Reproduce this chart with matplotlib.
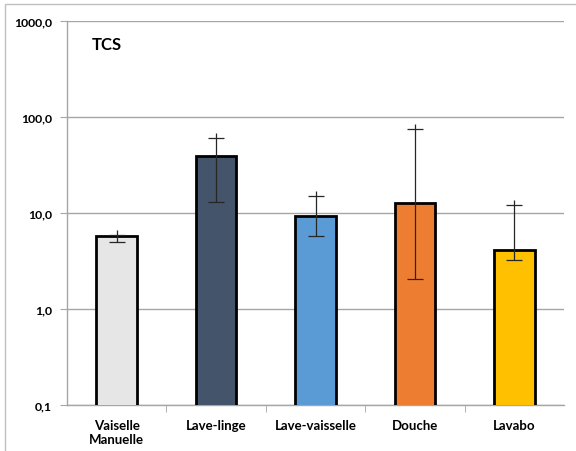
import matplotlib
matplotlib.use("Agg")
import matplotlib.pyplot as plt
import numpy as np
from matplotlib.patches import Rectangle
from matplotlib.ticker import FixedLocator, FuncFormatter

categories = ["Vaiselle\nManuelle", "Lave-linge", "Lave-vaisselle", "Douche", "Lavabo"]
values = [5.7, 39.5, 9.25, 12.7, 4.15]
err_low = [5.0, 13.1, 5.7, 2.05, 3.24]
err_high = [5.9, 60.0, 15.1, 75.0, 12.1]
colors = ["#E6E6E6", "#44546A", "#5B9BD5", "#ED7D31", "#FFC000"]
yticks = [0.1, 1, 10, 100, 1000]
title = "TCS"

plt.rcParams['font.family'] = ['Lato', 'DejaVu Sans']

fig = plt.figure(figsize=(5.76, 4.52), dpi=100)
ax = fig.add_axes([67/576, 1-406/452, (564-67)/576, (406-22)/452])

x = np.arange(len(categories))
ax.bar(x, values, width=0.41, color=colors, edgecolor="black", linewidth=2, zorder=3)

lower = np.array(values) - np.array(err_low)
upper = np.array(err_high) - np.array(values)
ax.errorbar(x, values, yerr=[lower, upper], fmt="none", ecolor="#262626",
            elinewidth=0.9, capsize=6, capthick=0.9, zorder=4)
# slight extension of the error line above the cap
ext = 10 ** (5 / 96)
ax.vlines(x, err_high, np.array(err_high) * ext, color="#262626", lw=0.9, zorder=4)

ax.set_yscale("log")
ax.set_ylim(0.1, 1000)
ax.set_xlim(-0.5, len(categories) - 0.5)
ax.yaxis.set_major_locator(FixedLocator(yticks))
ax.yaxis.set_minor_locator(FixedLocator([]))
ax.yaxis.set_major_formatter(FuncFormatter(lambda v, p: f"{v:.1f}".replace(".", ",")))
ax.grid(axis="y", color="#A6A6A6", lw=1, zorder=0)

ax.set_xticks(x)
ax.set_xticklabels(categories, fontsize=9.5, fontweight="bold", linespacing=1.25)
ax.set_xticks(np.arange(len(categories) - 1) + 0.5, minor=True)
ax.tick_params(axis="x", which="major", length=0, pad=10)
ax.tick_params(axis="x", which="minor", length=5, color="#A6A6A6", direction="out")
ax.tick_params(axis="y", length=5, color="#A6A6A6", labelsize=8.8, pad=6)
for lab in ax.get_yticklabels():
    lab.set_fontweight("bold")

for s in ["top", "right"]:
    ax.spines[s].set_visible(False)
for s in ["left", "bottom"]:
    ax.spines[s].set_color("#A6A6A6")
    ax.spines[s].set_linewidth(1)

ax.text(0.05, 0.927, title, transform=ax.transAxes, fontsize=12, fontweight="bold",
        va="baseline", ha="left")

fig.add_artist(Rectangle((5/576, -0.01), 1.2, 1 - 5/452 + 0.01, transform=fig.transFigure,
                         fill=False, edgecolor="#BFBFBF", lw=1))

fig.savefig("out.png", dpi=100)
